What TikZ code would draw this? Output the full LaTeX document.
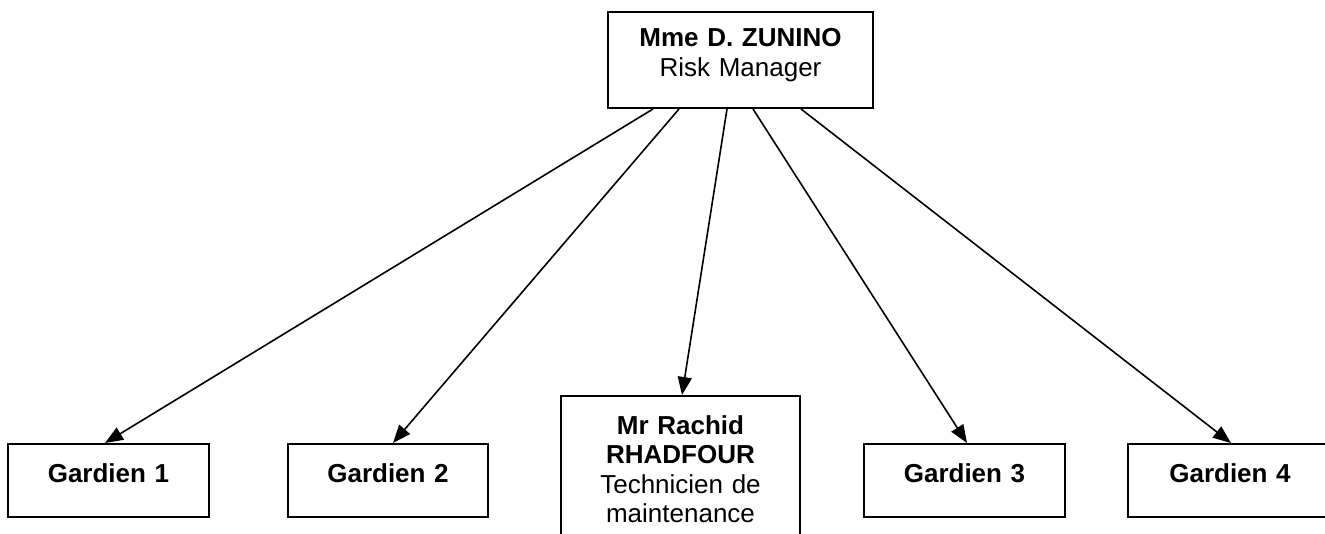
\documentclass[tikz,border=0pt]{standalone}
\usepackage{fontspec}
\setmainfont{Liberation Sans}
\usetikzlibrary{arrows.meta}
\begin{document}
\begin{tikzpicture}[x=1pt,y=-1pt,
  box/.style={draw,line width=2pt,inner sep=0pt,align=center,anchor=north west,
    font=\fontsize{26}{29.5}\selectfont},
  gbox/.style={box,text width=201pt,text height=38pt,text depth=35pt},
  link/.style={line width=1.6pt,-{Triangle[length=18pt,width=14pt]}}]
\useasboundingbox (0,0) rectangle (1325,534);
\clip (0,0) rectangle (1325,534);
\node[box,text width=265pt,text height=35pt,text depth=61pt] (top) at (607,11)
  {\textbf{Mme D. ZUNINO}\\Risk Manager};
\node[gbox] (g1) at (7,443) {\textbf{Gardien 1}};
\node[gbox,text width=200pt] (g2) at (287,443) {\textbf{Gardien 2}};
\node[box,text width=239pt,text height=38pt,text depth=127pt] (mid) at (560,395)
  {\textbf{Mr Rachid}\\\textbf{RHADFOUR}\\Technicien de\\maintenance};
\node[gbox] (g3) at (863,443) {\textbf{Gardien 3}};
\node[gbox,text width=204pt] (g4) at (1127,443) {\textbf{Gardien 4}};
\draw[link] ([xshift=46pt]top.south west) -- ([xshift=98pt]g1.north west);
\draw[link] ([xshift=72pt]top.south west) -- ([xshift=106pt]g2.north west);
\draw[link] ([xshift=120pt]top.south west) -- ([xshift=122pt]mid.north west);
\draw[link] ([xshift=146pt]top.south west) -- ([xshift=104pt]g3.north west);
\draw[link] ([xshift=194pt]top.south west) -- ([xshift=104pt]g4.north west);
\end{tikzpicture}
\end{document}
